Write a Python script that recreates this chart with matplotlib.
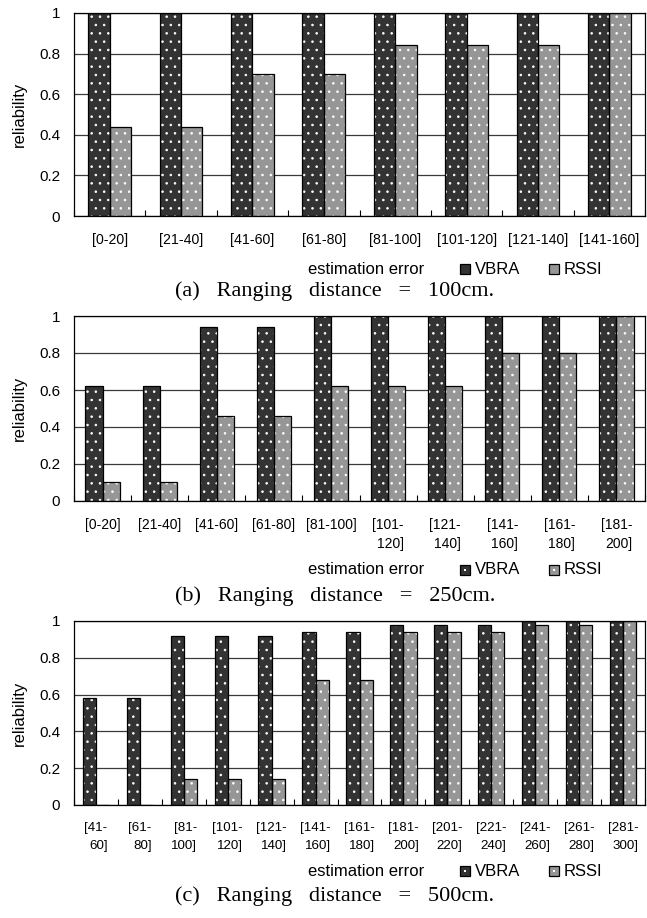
import matplotlib
matplotlib.use('Agg')
import matplotlib.pyplot as plt
from matplotlib.patches import Rectangle
import numpy as np

plt.rcParams['font.family'] = ['Liberation Sans', 'DejaVu Sans']
plt.rcParams['hatch.linewidth'] = 0.6

# ---------------- data ----------------
cats_a = ['[0-20]', '[21-40]', '[41-60]', '[61-80]', '[81-100]',
          '[101-120]', '[121-140]', '[141-160]']
vbra_a = [1.0, 1.0, 1.0, 1.0, 1.0, 1.0, 1.0, 1.0]
rssi_a = [0.44, 0.44, 0.70, 0.70, 0.84, 0.84, 0.84, 1.0]

cats_b = ['[0-20]', '[21-40]', '[41-60]', '[61-80]', '[81-100]',
          '[101-\n120]', '[121-\n140]', '[141-\n160]', '[161-\n180]', '[181-\n200]']
vbra_b = [0.62, 0.62, 0.94, 0.94, 1.0, 1.0, 1.0, 1.0, 1.0, 1.0]
rssi_b = [0.10, 0.10, 0.46, 0.46, 0.62, 0.62, 0.62, 0.80, 0.80, 1.0]

cats_c = ['[41-\n60]', '[61-\n80]', '[81-\n100]', '[101-\n120]', '[121-\n140]',
          '[141-\n160]', '[161-\n180]', '[181-\n200]', '[201-\n220]', '[221-\n240]',
          '[241-\n260]', '[261-\n280]', '[281-\n300]']
vbra_c = [0.58, 0.58, 0.92, 0.92, 0.92, 0.94, 0.94, 0.98, 0.98, 0.98, 1.0, 1.0, 1.0]
rssi_c = [0.0, 0.0, 0.14, 0.14, 0.14, 0.68, 0.68, 0.94, 0.94, 0.94, 0.98, 0.98, 1.0]

yticks = [0, 0.2, 0.4, 0.6, 0.8, 1.0]
ytick_labels = ['0', '0.2', '0.4', '0.6', '0.8', '1']
series_names = ['VBRA', 'RSSI']
captions = ['(a)   Ranging   distance   =   100cm.',
            '(b)   Ranging   distance   =   250cm.',
            '(c)   Ranging   distance   =   500cm.']
xlabel = 'estimation error'

# ---------------- style ----------------
W, H = 647, 918
C_VBRA = '#333333'
C_RSSI = '#969696'

fig = plt.figure(figsize=(W / 100, H / 100), dpi=100)


def px_box(left, top, right, bottom):
    return [left / W, 1 - bottom / H, (right - left) / W, (bottom - top) / H]


def panel(ax, cats, vbra, rssi, fs, ls):
    n = len(cats)
    x = np.arange(n)
    w = 0.3
    ax.set_axisbelow(True)
    ax.yaxis.grid(True, color='#3a3a3a', lw=0.9)
    for vals, off, col in [(vbra, -w / 2, C_VBRA), (rssi, w / 2, C_RSSI)]:
        ax.bar(x + off, vals, w, color=col, edgecolor='white', lw=0,
               hatch='..', zorder=2)
        ax.bar(x + off, vals, w, fill=False, edgecolor='black', lw=0.9, zorder=3)
    ax.set_xlim(-0.5, n - 0.5)
    ax.set_ylim(0, 1)
    ax.set_yticks(yticks)
    ax.set_yticklabels(ytick_labels, fontsize=11)
    ax.set_xticks(x)
    ax.set_xticklabels(cats, fontsize=fs, multialignment='right', linespacing=ls)
    ax.set_xticks(np.arange(n + 1) - 0.5, minor=True)
    ax.tick_params(axis='x', which='major', length=0, pad=12)
    ax.tick_params(axis='x', which='minor', direction='in', length=4, width=0.8)
    ax.tick_params(axis='y', length=0, pad=10)
    ax.set_ylabel('reliability', fontsize=12)
    ax.yaxis.set_label_coords(-0.082, 0.5)
    for s in ax.spines.values():
        s.set_linewidth(0.9)
        s.set_color('black')


def legend_row(y, caption_y, caption, dot):
    fig.text(366 / W, 1 - y / H, xlabel, ha='center', va='center', fontsize=12)
    for cx, tx, col, name in [(465, 475, C_VBRA, series_names[0]),
                              (554, 564, C_RSSI, series_names[1])]:
        s = 9.5
        fig.patches.append(Rectangle(((cx - s / 2) / W, 1 - (y + s / 2) / H),
                                     s / W, s / H, transform=fig.transFigure,
                                     facecolor=col, edgecolor='black', lw=0.9))
        if dot:
            fig.patches.append(Rectangle(((cx - 0.8) / W, 1 - (y + 0.8) / H),
                                         1.6 / W, 1.6 / H, transform=fig.transFigure,
                                         facecolor='white', edgecolor='none'))
        fig.text(tx / W, 1 - y / H, name, ha='left', va='center', fontsize=12)
    fig.text(335 / W, 1 - caption_y / H, caption, ha='center', va='center',
             fontsize=16, family=['Liberation Serif', 'DejaVu Serif'])


ax_a = fig.add_axes(px_box(74, 13, 645, 216))
panel(ax_a, cats_a, vbra_a, rssi_a, 10.2, 1.5)
legend_row(269, 291, captions[0], False)

ax_b = fig.add_axes(px_box(74, 316, 645, 501))
panel(ax_b, cats_b, vbra_b, rssi_b, 10, 1.5)
legend_row(570, 596, captions[1], True)

ax_c = fig.add_axes(px_box(74, 621, 645, 805))
panel(ax_c, cats_c, vbra_c, rssi_c, 9.6, 1.65)
legend_row(871, 896, captions[2], True)

fig.savefig('out.png', dpi=100)
